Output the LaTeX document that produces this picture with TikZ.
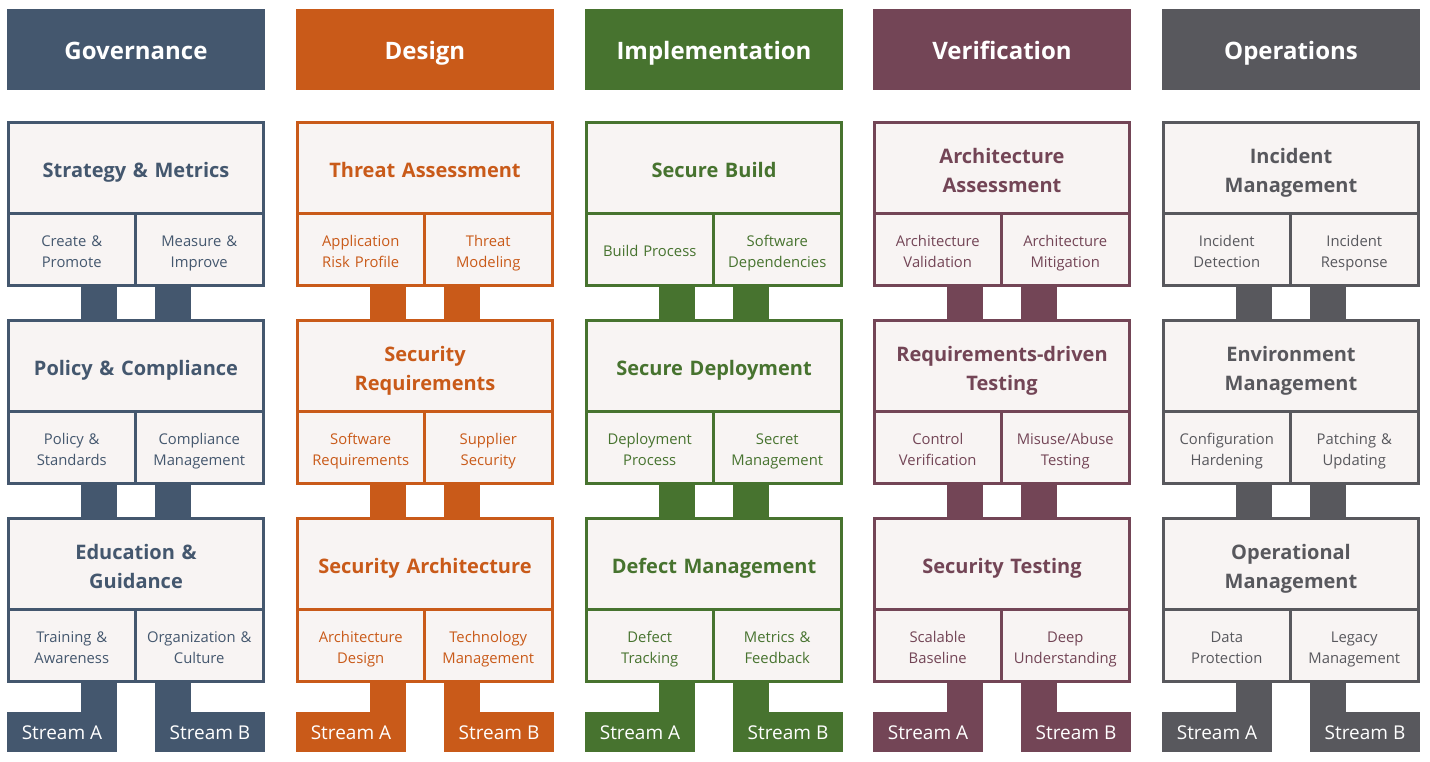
\documentclass[tikz,border=0pt]{standalone}
\usepackage{fontspec}
\setmainfont{Open Sans}
\usepackage{tikz}

\definecolor{govc}{HTML}{44576E}
\definecolor{desc}{HTML}{C95A19}
\definecolor{impc}{HTML}{47732F}
\definecolor{verc}{HTML}{734556}
\definecolor{opsc}{HTML}{58585D}
\definecolor{boxbg}{HTML}{F8F4F3}

\tikzset{
  head/.style={fill=cc, text=white, minimum width=258, minimum height=81, inner sep=0,
    text height=25.7pt, text depth=6pt, font=\bfseries\fontsize{24}{28}\selectfont},
  title/.style={draw=cc, line width=3, fill=boxbg, text=cc, minimum width=255, minimum height=90.5,
    text width=250, align=center, inner sep=0, font=\bfseries\fontsize{20}{29.5}\selectfont,
    execute at begin node={\vrule height25.3pt width0pt},
    execute at end node={\vrule depth5pt width0pt}},
  suba/.style={draw=cc, line width=3, fill=boxbg, text=cc, minimum width=126.5, minimum height=72.5,
    text width=122, align=center, inner sep=0, font=\fontsize{14.8}{21}\selectfont,
    execute at begin node={\vrule height18.6pt width0pt},
    execute at end node={\vrule depth3.7pt width0pt}},
  subb/.style={suba, minimum width=128.5},
  stream/.style={fill=cc, text=white, minimum width=110, minimum height=40, inner sep=0,
    text height=20.3pt, text depth=4.75pt, font=\fontsize{19}{22}\selectfont},
  conn/.style={draw=cc, line width=36}
}

\begin{document}
\begin{tikzpicture}[x=1pt,y=-1pt]
\useasboundingbox[fill=white] (0,0) rectangle (1430,761);

%Governance
\begin{scope}[xshift=7]
\colorlet{cc}{govc}
\node[head] (gov-h) at (129,49.5) {Governance};
\coordinate (gov-a) at (92,0);
\coordinate (gov-b) at (166,0);
\node[title] (gov-p1) at (129,167.75) {Strategy \& Metrics};
\node[suba] (gov-p1a) at (64.75,249.25) {Create \&\\Promote};
\node[subb] (gov-p1b) at (192.25,249.25) {Measure \&\\Improve};
\node[title] (gov-p2) at (129,365.75) {Policy \& Compliance};
\node[suba] (gov-p2a) at (64.75,447.25) {Policy \&\\Standards};
\node[subb] (gov-p2b) at (192.25,447.25) {Compliance\\Management};
\node[title] (gov-p3) at (129,563.75) {Education \&\\Guidance};
\node[suba] (gov-p3a) at (64.75,645.25) {Training \&\\Awareness};
\node[subb] (gov-p3b) at (192.25,645.25) {Organization \&\\Culture};
\node[stream] (gov-sa) at (55,732) {Stream A};
\node[stream] (gov-sb) at (203,732) {Stream B};
\draw[conn] (gov-p1a.south -| gov-a) -- (gov-p2.north -| gov-a);
\draw[conn] (gov-p1b.south -| gov-b) -- (gov-p2.north -| gov-b);
\draw[conn] (gov-p2a.south -| gov-a) -- (gov-p3.north -| gov-a);
\draw[conn] (gov-p2b.south -| gov-b) -- (gov-p3.north -| gov-b);
\draw[conn] (gov-p3a.south -| gov-a) -- (gov-sa.north -| gov-a);
\draw[conn] (gov-p3b.south -| gov-b) -- (gov-sb.north -| gov-b);
\end{scope}

%Design
\begin{scope}[xshift=296]
\colorlet{cc}{desc}
\node[head] (des-h) at (129,49.5) {Design};
\coordinate (des-a) at (92,0);
\coordinate (des-b) at (166,0);
\node[title] (des-p1) at (129,167.75) {Threat Assessment};
\node[suba] (des-p1a) at (64.75,249.25) {Application\\Risk Profile};
\node[subb] (des-p1b) at (192.25,249.25) {Threat\\Modeling};
\node[title] (des-p2) at (129,365.75) {Security\\Requirements};
\node[suba] (des-p2a) at (64.75,447.25) {Software\\Requirements};
\node[subb] (des-p2b) at (192.25,447.25) {Supplier\\Security};
\node[title] (des-p3) at (129,563.75) {Security Architecture};
\node[suba] (des-p3a) at (64.75,645.25) {Architecture\\Design};
\node[subb] (des-p3b) at (192.25,645.25) {Technology\\Management};
\node[stream] (des-sa) at (55,732) {Stream A};
\node[stream] (des-sb) at (203,732) {Stream B};
\draw[conn] (des-p1a.south -| des-a) -- (des-p2.north -| des-a);
\draw[conn] (des-p1b.south -| des-b) -- (des-p2.north -| des-b);
\draw[conn] (des-p2a.south -| des-a) -- (des-p3.north -| des-a);
\draw[conn] (des-p2b.south -| des-b) -- (des-p3.north -| des-b);
\draw[conn] (des-p3a.south -| des-a) -- (des-sa.north -| des-a);
\draw[conn] (des-p3b.south -| des-b) -- (des-sb.north -| des-b);
\end{scope}

%Implementation
\begin{scope}[xshift=585]
\colorlet{cc}{impc}
\node[head] (imp-h) at (129,49.5) {Implementation};
\coordinate (imp-a) at (92,0);
\coordinate (imp-b) at (166,0);
\node[title] (imp-p1) at (129,167.75) {Secure Build};
\node[suba] (imp-p1a) at (64.75,249.25) {Build Process};
\node[subb] (imp-p1b) at (192.25,249.25) {Software\\Dependencies};
\node[title] (imp-p2) at (129,365.75) {Secure Deployment};
\node[suba] (imp-p2a) at (64.75,447.25) {Deployment\\Process};
\node[subb] (imp-p2b) at (192.25,447.25) {Secret\\Management};
\node[title] (imp-p3) at (129,563.75) {Defect Management};
\node[suba] (imp-p3a) at (64.75,645.25) {Defect\\Tracking};
\node[subb] (imp-p3b) at (192.25,645.25) {Metrics \&\\Feedback};
\node[stream] (imp-sa) at (55,732) {Stream A};
\node[stream] (imp-sb) at (203,732) {Stream B};
\draw[conn] (imp-p1a.south -| imp-a) -- (imp-p2.north -| imp-a);
\draw[conn] (imp-p1b.south -| imp-b) -- (imp-p2.north -| imp-b);
\draw[conn] (imp-p2a.south -| imp-a) -- (imp-p3.north -| imp-a);
\draw[conn] (imp-p2b.south -| imp-b) -- (imp-p3.north -| imp-b);
\draw[conn] (imp-p3a.south -| imp-a) -- (imp-sa.north -| imp-a);
\draw[conn] (imp-p3b.south -| imp-b) -- (imp-sb.north -| imp-b);
\end{scope}

%Verification
\begin{scope}[xshift=873]
\colorlet{cc}{verc}
\node[head] (ver-h) at (129,49.5) {Verification};
\coordinate (ver-a) at (92,0);
\coordinate (ver-b) at (166,0);
\node[title] (ver-p1) at (129,167.75) {Architecture\\Assessment};
\node[suba] (ver-p1a) at (64.75,249.25) {Architecture\\Validation};
\node[subb] (ver-p1b) at (192.25,249.25) {Architecture\\Mitigation};
\node[title] (ver-p2) at (129,365.75) {Requirements-driven\\Testing};
\node[suba] (ver-p2a) at (64.75,447.25) {Control\\Verification};
\node[subb] (ver-p2b) at (192.25,447.25) {Misuse/Abuse\\Testing};
\node[title] (ver-p3) at (129,563.75) {Security Testing};
\node[suba] (ver-p3a) at (64.75,645.25) {Scalable\\Baseline};
\node[subb] (ver-p3b) at (192.25,645.25) {Deep\\Understanding};
\node[stream] (ver-sa) at (55,732) {Stream A};
\node[stream] (ver-sb) at (203,732) {Stream B};
\draw[conn] (ver-p1a.south -| ver-a) -- (ver-p2.north -| ver-a);
\draw[conn] (ver-p1b.south -| ver-b) -- (ver-p2.north -| ver-b);
\draw[conn] (ver-p2a.south -| ver-a) -- (ver-p3.north -| ver-a);
\draw[conn] (ver-p2b.south -| ver-b) -- (ver-p3.north -| ver-b);
\draw[conn] (ver-p3a.south -| ver-a) -- (ver-sa.north -| ver-a);
\draw[conn] (ver-p3b.south -| ver-b) -- (ver-sb.north -| ver-b);
\end{scope}

%Operations
\begin{scope}[xshift=1162]
\colorlet{cc}{opsc}
\node[head] (ops-h) at (129,49.5) {Operations};
\coordinate (ops-a) at (92,0);
\coordinate (ops-b) at (166,0);
\node[title] (ops-p1) at (129,167.75) {Incident\\Management};
\node[suba] (ops-p1a) at (64.75,249.25) {Incident\\Detection};
\node[subb] (ops-p1b) at (192.25,249.25) {Incident\\Response};
\node[title] (ops-p2) at (129,365.75) {Environment\\Management};
\node[suba] (ops-p2a) at (64.75,447.25) {Configuration\\Hardening};
\node[subb] (ops-p2b) at (192.25,447.25) {Patching \&\\Updating};
\node[title] (ops-p3) at (129,563.75) {Operational\\Management};
\node[suba] (ops-p3a) at (64.75,645.25) {Data\\Protection};
\node[subb] (ops-p3b) at (192.25,645.25) {Legacy\\Management};
\node[stream] (ops-sa) at (55,732) {Stream A};
\node[stream] (ops-sb) at (203,732) {Stream B};
\draw[conn] (ops-p1a.south -| ops-a) -- (ops-p2.north -| ops-a);
\draw[conn] (ops-p1b.south -| ops-b) -- (ops-p2.north -| ops-b);
\draw[conn] (ops-p2a.south -| ops-a) -- (ops-p3.north -| ops-a);
\draw[conn] (ops-p2b.south -| ops-b) -- (ops-p3.north -| ops-b);
\draw[conn] (ops-p3a.south -| ops-a) -- (ops-sa.north -| ops-a);
\draw[conn] (ops-p3b.south -| ops-b) -- (ops-sb.north -| ops-b);
\end{scope}
\end{tikzpicture}
\end{document}
